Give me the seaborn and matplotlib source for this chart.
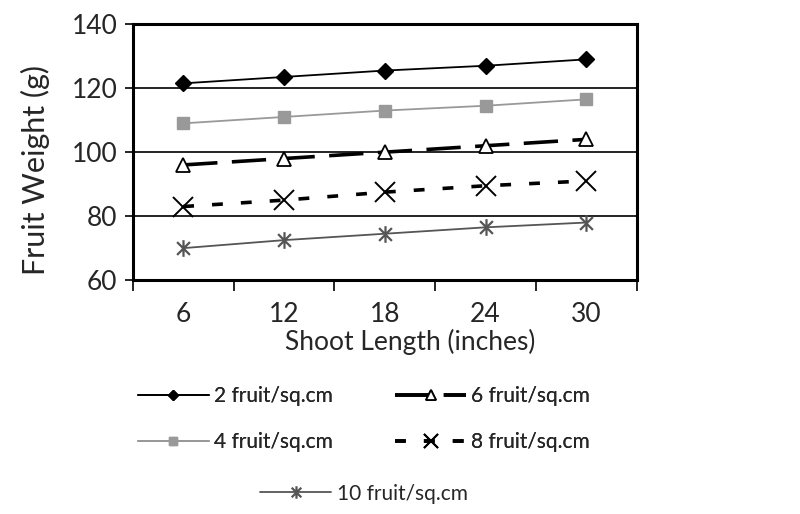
import numpy as np
import pandas as pd
import matplotlib
matplotlib.use("Agg")
import matplotlib.pyplot as plt
from matplotlib.path import Path
from matplotlib.ticker import FixedLocator, NullFormatter
import seaborn as sns

# === Data ===
shoot_length = [6, 12, 18, 24, 30]
w2 = [121.5, 123.5, 125.5, 127.0, 129.0]
w4 = [109.0, 111.0, 113.0, 114.5, 116.5]
w6 = [96.0, 98.0, 100.0, 102.0, 104.0]
w8 = [83.0, 85.0, 87.5, 89.5, 91.0]
w10 = [70.0, 72.5, 74.5, 76.5, 78.0]
series_names = ["2 fruit/sq.cm", "4 fruit/sq.cm", "6 fruit/sq.cm", "8 fruit/sq.cm", "10 fruit/sq.cm"]

df = pd.DataFrame({
    "length": shoot_length * 5,
    "weight": w2 + w4 + w6 + w8 + w10,
    "series": np.repeat(series_names, len(shoot_length)),
})

sns.set_theme(style="white")
plt.rcParams["font.family"] = ["Lato", "DejaVu Sans"]

# asterisk marker: X plus a vertical bar
asterisk = Path(
    [(-1, -1), (1, 1), (-1, 1), (1, -1), (0, -1.3), (0, 1.3)],
    [Path.MOVETO, Path.LINETO, Path.MOVETO, Path.LINETO, Path.MOVETO, Path.LINETO],
)

styles = {
    "2 fruit/sq.cm": dict(color="black", lw=1.3, ls="-", marker="D", ms=8, mfc="black", mec="black", mew=1),
    "4 fruit/sq.cm": dict(color="#999999", lw=1.3, ls="-", marker="s", ms=9, mfc="#999999", mec="#999999", mew=1),
    "6 fruit/sq.cm": dict(color="black", lw=2.6, ls=(0, (9.5, 4)), marker="^", ms=10, mfc="white", mec="black", mew=1.3),
    "8 fruit/sq.cm": dict(color="black", lw=2.6, ls=(0, (3, 5)), marker="x", ms=15, mfc="none", mec="black", mew=1.4),
    "10 fruit/sq.cm": dict(color="#555555", lw=1.3, ls="-", marker=asterisk, ms=12, mfc="none", mec="#555555", mew=1.6),
}

fig = plt.figure(figsize=(8, 5.14), dpi=100)
ax = fig.add_axes([0.166, 0.455, 0.63, 0.498])

handles = []
for name in series_names:
    st = styles[name]
    sns.lineplot(data=df[df["series"] == name], x="length", y="weight", ax=ax,
                 color=st["color"], linewidth=st["lw"], linestyle=st["ls"],
                 marker=st["marker"], markersize=st["ms"], markerfacecolor=st["mfc"],
                 markeredgecolor=st["mec"], markeredgewidth=st["mew"], zorder=3)
    handles.append(ax.lines[-1])

ax.set_xlim(3, 33)
ax.set_ylim(60, 140)
ax.set_yticks([60, 80, 100, 120, 140])
for yv in [80, 100, 120]:
    ax.axhline(yv, color="black", lw=1.2, zorder=1)

ax.xaxis.set_major_locator(FixedLocator([3, 9, 15, 21, 27, 33]))
ax.xaxis.set_major_formatter(NullFormatter())
ax.xaxis.set_minor_locator(FixedLocator(shoot_length))
ax.set_xticklabels([str(v) for v in shoot_length], minor=True)
ax.tick_params(axis="x", which="major", direction="out", length=8, width=1.2, bottom=True, color="black")
ax.tick_params(axis="x", which="minor", length=0, pad=16, labelsize=19)
ax.tick_params(axis="y", direction="out", length=6, width=1.2, left=True, pad=5, labelsize=19, color="black")

for sp in ax.spines.values():
    sp.set_color("black")
    sp.set_linewidth(2.2)

ax.set_xlabel("Shoot Length (inches)", fontsize=19, va="top")
ax.set_ylabel("Fruit Weight (g)", fontsize=22)
ax.xaxis.set_label_coords(0.55, -0.192)
ax.yaxis.set_label_coords(-0.165, 0.43)

leg1 = fig.legend(handles[:4], series_names[:4], ncol=2, loc="upper left",
                  bbox_to_anchor=(0.162, 0.265), frameon=False, fontsize=15,
                  handlelength=3.4, handletextpad=0.25, columnspacing=3.0,
                  labelspacing=1.25, borderaxespad=0, markerscale=0.65)
leg2 = fig.legend(handles[4:], series_names[4:], loc="upper left",
                  bbox_to_anchor=(0.315, 0.075), frameon=False, fontsize=15,
                  handlelength=3.4, handletextpad=0.3, borderaxespad=0, markerscale=0.75)
fig.add_artist(leg1)

plt.savefig("out.png", dpi=100)
plt.close()
